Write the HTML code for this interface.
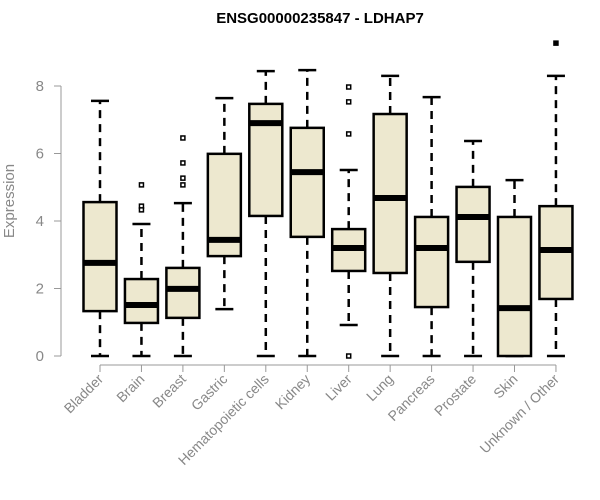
<!DOCTYPE html>
<html><head><meta charset="utf-8"><style>
body{margin:0;background:#fff;}
svg{display:block;font-family:"Liberation Sans",Arial,sans-serif;}
</style></head><body>
<svg id="chart" width="600" height="500">
<text x="320" y="23" text-anchor="middle" font-weight="bold" font-size="15" fill="#000">ENSG00000235847 - LDHAP7</text>
<text transform="translate(14,201) rotate(-90)" text-anchor="middle" font-size="15" fill="#888">Expression</text>
<g id="axes"></g>
<g id="boxes"></g>
</svg>
<script>
const categories=["Bladder","Brain","Breast","Gastric","Hematopoietic cells","Kidney","Liver","Lung","Pancreas","Prostate","Skin","Unknown / Other"];
const whiskerLow=[0,0,0,1.39,0,0,0.92,0,0,0,0,0];
const q1=[1.33,0.98,1.13,2.96,4.15,3.53,2.52,2.46,1.45,2.79,0,1.69];
const medians=[2.76,1.51,1.99,3.44,6.9,5.45,3.2,4.68,3.2,4.12,1.42,3.14];
const q3=[4.56,2.28,2.61,5.99,7.47,6.76,3.76,7.17,4.12,5.01,4.12,4.44];
const whiskerHigh=[7.56,3.91,4.53,7.64,8.44,8.47,5.51,8.3,7.67,6.37,5.21,8.3];
const outliers=[[],[5.07,4.44,4.33],[6.46,5.72,5.27,5.07],[],[],[],[7.97,7.53,6.58,0],[],[],[],[],[9.27]];
const yTicks=[0,2,4,6,8];
const NS="http://www.w3.org/2000/svg";
const y=v=>356-v*33.75;
const x=i=>100+i*41.45;
function mk(tag,attrs,parent){const e=document.createElementNS(NS,tag);for(const k in attrs)e.setAttribute(k,attrs[k]);parent.appendChild(e);return e;}
const ax=document.getElementById('axes');
const yl=mk('line',{x1:61,x2:61,y1:y(0),y2:y(8),stroke:'#999'},ax);


yTicks.forEach(t=>{
  const tk=mk('line',{x1:54,x2:61,y1:y(t),y2:y(t),stroke:'#999'},ax);
  
  
  const tx=mk('text',{x:44,y:y(t)+5,'text-anchor':'end','font-size':15,fill:'#888'},ax);
  tx.textContent=t;
  
  
});
const xl=mk('line',{x1:x(0),x2:x(categories.length-1),y1:365,y2:365,stroke:'#999'},ax);


const bx=document.getElementById('boxes');
categories.forEach((c,i)=>{
  const cx=x(i);
  const tk=mk('line',{x1:cx,x2:cx,y1:365,y2:372,stroke:'#999'},ax);
  
  
  const tx=mk('text',{x:cx+4,y:380,'text-anchor':'end','font-size':14,fill:'#888',transform:`rotate(-45 ${cx+4} 380)`},ax);
  tx.textContent=c;
  
  
  const g=mk('g',{},bx);
  
  
  const dash={stroke:'#000','stroke-width':2.5,'stroke-dasharray':'8,6'};
  mk('line',Object.assign({x1:cx,x2:cx,y1:y(q3[i]),y2:y(whiskerHigh[i])},dash),g);
  mk('line',Object.assign({x1:cx,x2:cx,y1:y(q1[i]),y2:y(whiskerLow[i])},dash),g);
  mk('line',{x1:cx-9,x2:cx+9,y1:y(whiskerHigh[i]),y2:y(whiskerHigh[i]),stroke:'#000','stroke-width':2.5},g);
  mk('line',{x1:cx-9,x2:cx+9,y1:y(whiskerLow[i]),y2:y(whiskerLow[i]),stroke:'#000','stroke-width':2.5},g);
  mk('rect',{x:cx-16.5,y:y(q3[i]),width:33,height:y(q1[i])-y(q3[i]),fill:'#ede8cf',stroke:'#000','stroke-width':2.5},g);
  mk('line',{x1:cx-16.5,x2:cx+16.5,y1:y(medians[i]),y2:y(medians[i]),stroke:'#000','stroke-width':6},g);
  outliers[i].forEach(o=>{
    const p=mk('rect',{x:cx-2,y:y(o)-2,width:4,height:4,fill:i==11?'#000':'#fff',stroke:'#000','stroke-width':1.5},g);
    
    
  });
});
</script>
</body></html>
